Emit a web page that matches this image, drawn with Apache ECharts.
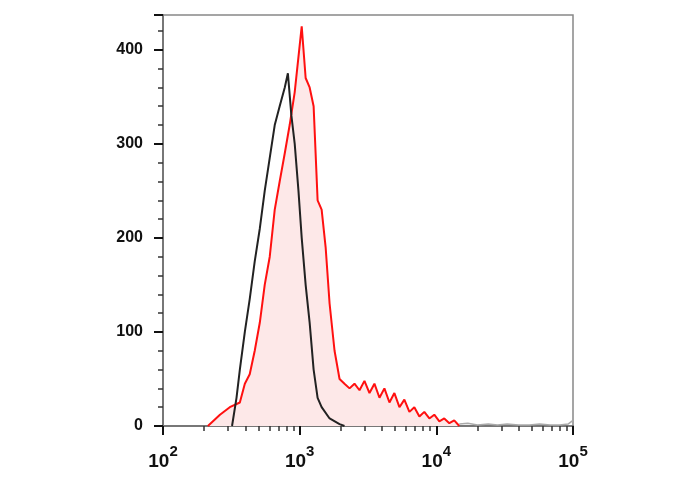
<!DOCTYPE html><html><head><meta charset="utf-8"><script src="https://cdn.jsdelivr.net/npm/echarts@6/dist/echarts.min.js"></script></head><body style="margin:0;background:#fff"><div id="c" style="width:688px;height:490px"></div><script>
const redX=[213,261,308,365,397,431,469,511,555,604,657,714,778,845,920,1035,1106,1183,1265,1353,1448,1549,1656,1800,1958,2128,2317,2518,2741,2979,3243,3524,3837,4169,4539,4932,5370,5834,6353,6902,7516,8166,8892,9661,10520,11430,12450,13520,14720];
const redY=[0,12,20,25,45,55,80,110,150,180,230,260,290,320,355,425,370,360,340,240,230,190,130,80,50,45,40,45,38,48,35,45,30,40,25,35,20,28,15,20,10,15,8,12,5,8,3,6,0];
const blackX=[320,345,365,397,431,469,511,555,604,657,714,778,820,870,920,980,1035,1106,1183,1265,1353,1448,1656,1958,2128];
const blackY=[0,30,60,100,135,175,210,250,285,320,340,360,375,330,300,250,200,150,110,60,30,20,8,2,0];
const grayX=[14720,17000,20000,24000,28000,33000,40000,48000,57000,68000,80000,92000,100000];
const grayY=[2,3,1,2,1,2,1,1,2,1,1,2,6];
const ch=echarts.init(document.getElementById('c'));
const z=(a,b)=>a.map((v,i)=>[v,b[i]]);
ch.setOption({animation:false,
grid:{left:163,right:115,top:15,bottom:64,show:true,borderColor:'#888',borderWidth:1.5},
xAxis:{type:'log',logBase:10,min:100,max:100000,
 axisLine:{lineStyle:{color:'#777',width:2}},
 axisTick:{inside:false,length:9,lineStyle:{color:'#111',width:2}},
 minorTick:{show:true,splitNumber:9,length:5,lineStyle:{color:'#333',width:1.5}},
 splitLine:{show:false},
 axisLabel:{margin:18,formatter:v=>{const e=Math.round(Math.log10(v));return '{b|10}{s|'+e+'}';},
  rich:{b:{fontSize:19,fontWeight:'bold',fontFamily:'Liberation Sans',color:'#111',padding:[8,0,0,0]},s:{fontSize:15,fontWeight:'bold',fontFamily:'Liberation Sans',color:'#111',verticalAlign:'top',padding:[0,0,12,0]}}}},
yAxis:{type:'value',min:0,max:437,interval:100,
 axisLine:{show:true,lineStyle:{color:'#777',width:2}},
 axisTick:{show:true,length:9,lineStyle:{color:'#111',width:2}},
 minorTick:{show:true,splitNumber:5,length:5,lineStyle:{color:'#333',width:1.5}},
 splitLine:{show:false},
 axisLabel:{margin:20,fontSize:16,fontWeight:'bold',color:'#111',fontFamily:'Liberation Sans',showMaxLabel:false}},
series:[
 {type:'line',data:z(grayX,grayY),symbol:'none',lineStyle:{color:'#aaa',width:1.5}},
 {type:'line',data:z(redX,redY),symbol:'none',lineStyle:{color:'#ff1010',width:2},areaStyle:{color:'#fde8e8',opacity:1}},
 {type:'line',data:z(blackX,blackY),symbol:'none',lineStyle:{color:'#222',width:2}}
]});
</script></body></html>
